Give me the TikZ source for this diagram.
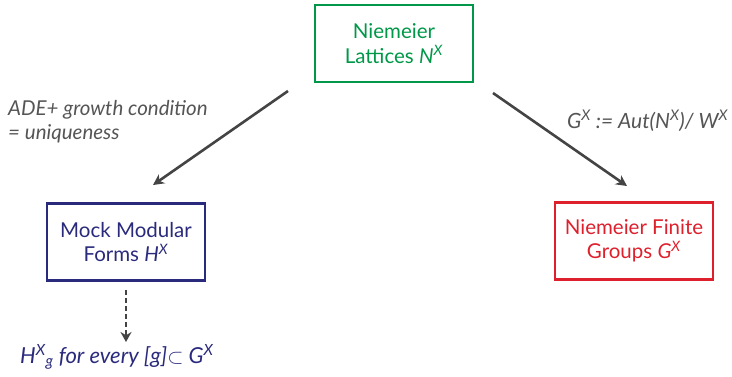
\documentclass[tikz,border=0pt]{standalone}
\usepackage{fontspec}
\setmainfont{Lato}
\usetikzlibrary{arrows.meta}
\definecolor{lgreen}{RGB}{0,152,72}
\definecolor{lnavy}{RGB}{42,42,125}
\definecolor{lred}{RGB}{222,32,44}
\definecolor{arrowgray}{RGB}{68,68,68}
\definecolor{labelgray}{RGB}{85,85,85}
\begin{document}
\begin{tikzpicture}[x=1pt,y=-1pt,
  box/.style={draw,line width=2.8pt,minimum width=158pt,minimum height=77pt,align=center,inner sep=0pt,font=\fontsize{20.5}{24.5}\selectfont},
  conn/.style={line width=2.6pt,draw=arrowgray,-{Stealth[length=11pt,width=11pt]}},
  dconn/.style={line width=2.4pt,draw=arrowgray,dash pattern=on 5pt off 3pt,-{Stealth[length=10pt,width=11pt]}},
  lbl/.style={anchor=base west,inner sep=0pt,text=labelgray,font=\fontsize{20.5}{24}\selectfont\itshape}]
\useasboundingbox (0,0) rectangle (732,376);
\node[box,draw=lgreen,text=lgreen] (green) at (394,43.5) {Niemeier\\Lattices \textit{N}\textsuperscript{\textit{X}}};
\node[box,draw=lnavy,text=lnavy] (blue) at (126,242) {Mock Modular\\Forms \textit{H}\textsuperscript{\textit{X}}};
\node[box,draw=lred,text=lred] (red) at (634,241) {Niemeier Finite\\Groups \textit{G}\textsuperscript{\textit{X}}};
\node[lbl] (l1) at (8,115) {ADE+ growth condition};
\node[lbl] (l2) at (8,139) {= uniqueness};
\node[lbl,font=\fontsize{21}{24}\selectfont\itshape] (r1) at (567,128) {G\textsuperscript{X} := Aut(N\textsuperscript{X})/ W\textsuperscript{X}};
\node[anchor=base west,inner sep=0pt,text=lnavy,font=\fontsize{22}{24}\selectfont\itshape] (bottom) at (20,363) {H\textsuperscript{X}\textsubscript{g} for every [g]$\subset$ G\textsuperscript{X}};
\coordinate (a1s) at (288,91);
\coordinate (a1e) at (153,185);
\coordinate (a2s) at (493,93);
\coordinate (a2e) at (627,186);
\coordinate (a3s) at (126,290);
\coordinate (a3e) at (126,342);
\draw[conn] (a1s) -- (a1e);
\draw[conn] (a2s) -- (a2e);
\draw[dconn] (a3s) -- (a3e);
\end{tikzpicture}
\end{document}
